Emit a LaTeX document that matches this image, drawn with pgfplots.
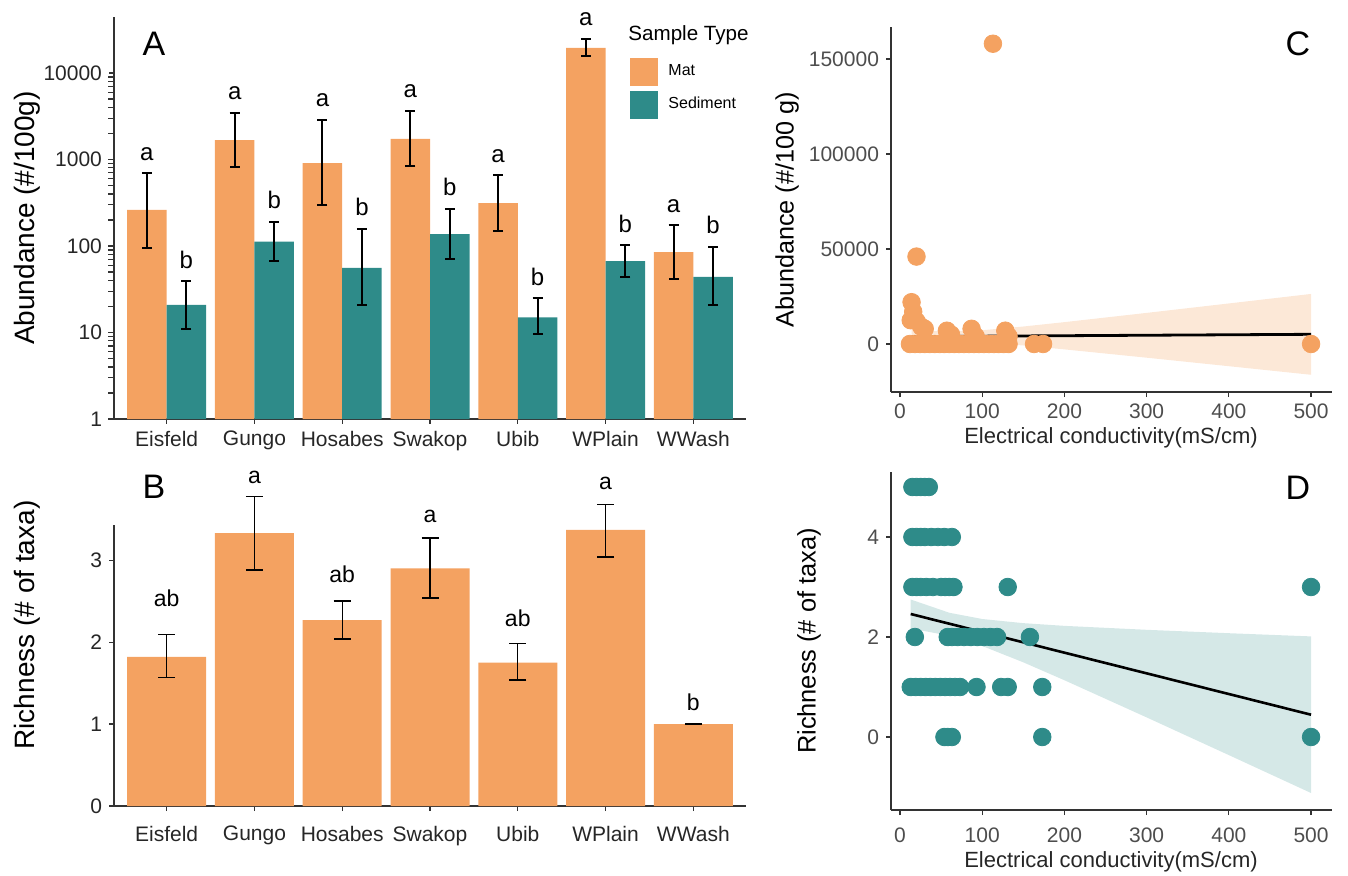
\documentclass[border=0pt]{standalone}
\usepackage{pgfplots}
\pgfplotsset{compat=1.18}
\usepackage{pgfplotstable}
\usepackage{fontspec}
\setmainfont{Liberation Sans}
\definecolor{matc}{HTML}{F4A261}
\definecolor{sedc}{HTML}{2E8B89}
\definecolor{tickc}{HTML}{4D4D4D}

\pgfplotstableread{
x mat mep mem sed sep sem
1 261 434 166 20.8 18.2 9.8
2 1680 1770 860 112 78 45
3 910 1960 613 56 102 35
4 1730 1910 890 137 131 66
5 314 346 165 15 10 5.4
6 19500 5500 3700 67 35 23
7 85 89 43 44 54 23
}\Adata

\pgfplotstableread{
x m ep em
1 1.82 0.27 0.25
2 3.33 0.45 0.45
3 2.27 0.23 0.23
4 2.90 0.37 0.36
5 1.75 0.23 0.21
6 3.37 0.31 0.33
7 1.00 0.005 0.005
}\Bdata

\pgfplotstableread{
x y
12 0
18 0
24 0
30 0
36 0
42 0
48 0
54 0
60 0
66 0
72 0
78 0
84 0
90 0
96 0
102 0
108 0
114 0
120 0
126 0
132 0
163 0
174 0
500 0
14 22000
16 17000
13 12500
20 12000
26 9000
30 8000
20 46000
113 158000
57 7000
62 5000
87 8000
92 4000
128 7000
132 4000
}\Cdata

\pgfplotstableread{
x y
15 5
20 5
25 5
30 5
35 5
15 4
20 4
25 4
30 4
38 4
46 4
54 4
63 4
15 3
20 3
25 3
32 3
40 3
50 3
55 3
60 3
65 3
131 3
500 3
18 2
58 2
63 2
70 2
78 2
86 2
94 2
102 2
110 2
118 2
158 2
13 1
19 1
25 1
31 1
37 1
43 1
49 1
55 1
61 1
67 1
73 1
93 1
123 1
131 1
173 1
54 0
58 0
63 0
173 0
500 0
}\Ddata

\pgfplotsset{
  panel/.style={
    anchor=south west, scale only axis,
    axis x line*=bottom, axis y line*=left,
    axis line style={black!80, line width=0.75pt},
    tick style={black!80, line width=0.6pt},
    tick align=outside, major tick length=2.5pt,
    clip=false,
  },
  errA/.style={forget plot, draw=none, mark=none,
    error bars/.cd, y dir=both, y explicit,
    error bar style={draw=black, solid, line width=1pt},
    error mark options={rotate=90, draw=black, solid, mark size=2.5pt, line width=1pt}},
  errB/.style={forget plot, draw=none, mark=none,
    error bars/.cd, y dir=both, y explicit,
    error bar style={draw=black, solid, line width=0.7pt},
    error mark options={rotate=90, draw=black, solid, mark size=4.25pt, line width=0.7pt}},
}
\tikzset{lett/.style={font=\fontsize{12}{14}\selectfont, anchor=base},
  lettA/.style={lett, yshift=6.5pt},
  lettB/.style={font=\fontsize{11.5}{13}\selectfont, anchor=base}}

\begin{document}
\begin{tikzpicture}
\path[use as bounding box] (0,0) rectangle (674pt,437.5pt);

% ---------------- Panel A
\begin{axis}[panel, at={(57pt,228pt)}, width=316pt, height=201pt,
  ymode=log, ymin=1, ymax=44400, xmin=0.4, xmax=7.6,
  xtick={1,2,3,4,5,6,7},
  xticklabels={Eisfeld,Gungo,Hosabes,Swakop,Ubib,WPlain,WWash},
  ytick={1,10,100,1000,10000}, yticklabels={1,10,100,1000,10000},
  minor ytick={}, 
  tick label style={font=\fontsize{10.5}{12}\selectfont, text=black!85},
  legend style={at={(0.8165,0.90)}, anchor=north west, draw=none, fill=none,
    inner sep=0pt, font=\fontsize{8}{9}\selectfont, row sep=2.5pt,
    /tikz/every odd column/.append style={column sep=3pt}},
  legend cell align=left]
\addplot[ybar, bar width=0.45, bar shift=-0.225, fill=matc, draw=none,
  legend image code/.code={\fill[matc] (0pt,-7pt) rectangle (14pt,7pt);}]
  table[x=x, y=mat]{\Adata};
\addlegendentry{Mat}
\addplot[ybar, bar width=0.45, bar shift=0.225, fill=sedc, draw=none,
  legend image code/.code={\fill[sedc] (0pt,-7pt) rectangle (14pt,7pt);}]
  table[x=x, y=sed]{\Adata};
\addlegendentry{Sediment}
\addplot[errA]
  table[x expr=\thisrow{x}-0.225, y=mat, y error plus=mep, y error minus=mem]{\Adata};
\addplot[errA]
  table[x expr=\thisrow{x}+0.225, y=sed, y error plus=sep, y error minus=sem]{\Adata};
\node[lettA] at (axis cs:0.775,695) {a};
\node[lettA] at (axis cs:1.775,3450) {a};
\node[lettA] at (axis cs:2.775,2870) {a};
\node[lettA] at (axis cs:3.775,3640) {a};
\node[lettA] at (axis cs:4.775,660) {a};
\node[lettA] at (axis cs:5.775,25000) {a};
\node[lettA] at (axis cs:6.775,174) {a};
\node[lettA] at (axis cs:1.225,39) {b};
\node[lettA] at (axis cs:2.225,190) {b};
\node[lettA] at (axis cs:3.225,158) {b};
\node[lettA] at (axis cs:4.225,268) {b};
\node[lettA] at (axis cs:5.225,25) {b};
\node[lettA] at (axis cs:6.225,102) {b};
\node[lettA] at (axis cs:7.225,98) {b};
\end{axis}

% ---------------- Panel B
\begin{axis}[panel, at={(57pt,34.5pt)}, width=316pt, height=140.5pt,
  ymin=0, ymax=3.43, xmin=0.4, xmax=7.6,
  xtick={1,2,3,4,5,6,7},
  xticklabels={Eisfeld,Gungo,Hosabes,Swakop,Ubib,WPlain,WWash},
  ytick={0,1,2,3}, yticklabels={0,1,2,3},
  tick label style={font=\fontsize{10.5}{12}\selectfont, text=black!85},
  xticklabel style={yshift=-4pt}]
\addplot[ybar, bar width=0.9, bar shift=0, fill=matc, draw=none]
  table[x=x, y=m]{\Bdata};
\addplot[errB]
  table[x=x, y=m, y error plus=ep, y error minus=em]{\Bdata};
\node[lettB] at (axis cs:1,2.43) {ab};
\node[lettB] at (axis cs:2,3.94) {a};
\node[lettB] at (axis cs:3,2.73) {ab};
\node[lettB] at (axis cs:4,3.46) {a};
\node[lettB] at (axis cs:5,2.19) {ab};
\node[lettB] at (axis cs:6,3.86) {a};
\node[lettB] at (axis cs:7,1.16) {b};
\end{axis}

% ---------------- Panel C
\begin{axis}[panel, at={(445.5pt,241.5pt)}, width=220.5pt, height=182.5pt,
  xmin=-11, xmax=525.5, ymin=-25260, ymax=166800,
  xtick={0,100,200,300,400,500}, xticklabels={0,100,200,300,400,500},
  ytick={0,50000,100000,150000}, yticklabels={0,50000,100000,150000},
  scaled ticks=false,
  tick label style={font=\fontsize{10.5}{12}\selectfont, text=tickc}]
\addplot[only marks, color=matc, mark=*, mark size=4.4pt, mark options={solid, draw=matc, fill=matc}]
  table[x=x, y=y]{\Cdata};
\addplot[fill=matc, fill opacity=0.25, draw=none] coordinates {
  (14,7270) (60,6488) (100,7239) (150,9201) (200,11503) (300,16367) (400,21335) (500,26339)
  (500,-16197) (400,-11685) (300,-7209) (200,-2837) (150,-781) (100,933) (60,1488) (14,470)
} -- cycle;
\addplot[black, line width=1.4pt] coordinates {(14,3900) (500,5100)};
\end{axis}

% ---------------- Panel D
\begin{axis}[panel, at={(445.5pt,32.5pt)}, width=220.5pt, height=169pt,
  xmin=-11, xmax=525.5, ymin=-1.46, ymax=5.3,
  xtick={0,100,200,300,400,500}, xticklabels={0,100,200,300,400,500},
  ytick={0,2,4}, yticklabels={0,2,4},
  tick label style={font=\fontsize{10.5}{12}\selectfont, text=tickc},
  xticklabel style={yshift=-3pt}]
\addplot[only marks, color=sedc, mark=*, mark size=4.4pt, mark options={solid, draw=sedc, fill=sedc}]
  table[x=x, y=y]{\Ddata};
\addplot[fill=sedc, fill opacity=0.2, draw=none] coordinates {
  (13,2.75) (60,2.485) (100,2.36) (150,2.277) (200,2.223) (300,2.144) (400,2.076) (500,2.012)
  (500,-1.12) (400,-0.362) (300,0.392) (200,1.135) (150,1.493) (100,1.82) (60,2.025) (13,2.17)
} -- cycle;
\addplot[black, line width=1.3pt] coordinates {(13,2.46) (500,0.446)};
\end{axis}

% ---------------- texts
\node[font=\fontsize{17}{20}\selectfont] at (77pt,415.5pt) {A};
\node[font=\fontsize{17}{20}\selectfont] at (77pt,194pt) {B};
\node[font=\fontsize{17}{20}\selectfont] at (649pt,415.5pt) {C};
\node[font=\fontsize{17}{20}\selectfont] at (649pt,193.5pt) {D};
\node[font=\fontsize{10.3}{12}\selectfont, anchor=west, inner sep=0pt] at (314pt,420pt) {Sample Type};
\node[font=\fontsize{14}{16}\selectfont, rotate=90] at (13.5pt,328.5pt) {Abundance (\#/100g)};
\node[font=\fontsize{14}{16}\selectfont, rotate=90] at (13.5pt,125pt) {Richness (\# of taxa)};
\node[font=\fontsize{12.6}{15}\selectfont, rotate=90] at (393.5pt,332.5pt) {Abundance (\#/100 g)};
\node[font=\fontsize{12.7}{15}\selectfont, rotate=90] at (404.5pt,117pt) {Richness (\# of taxa)};
\node[font=\fontsize{11}{13}\selectfont, text=black!85] at (555.5pt,218.5pt) {Electrical conductivity(mS/cm)};
\node[font=\fontsize{11}{13}\selectfont, text=black!85] at (555.5pt,6.5pt) {Electrical conductivity(mS/cm)};
\end{tikzpicture}
\end{document}
